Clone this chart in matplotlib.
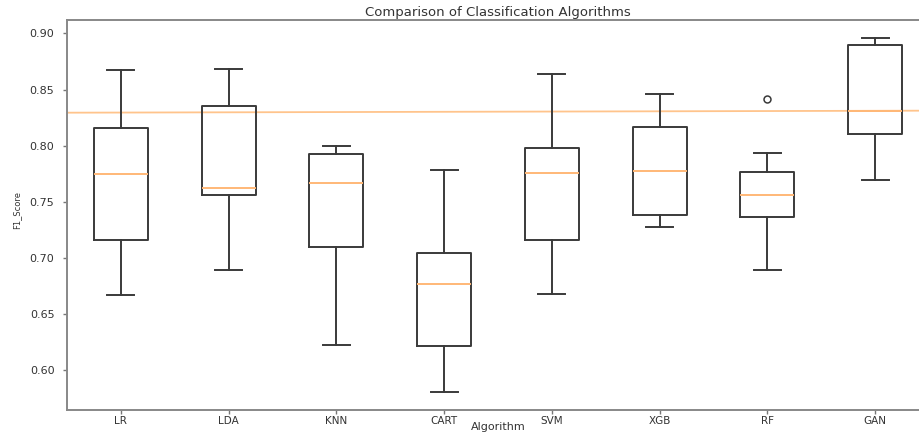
import matplotlib.pyplot as plt

# F1 scores per algorithm, summarised as box statistics
algorithms = ["LR", "LDA", "KNN", "CART", "SVM", "XGB", "RF", "GAN"]
whisker_low = [0.6665, 0.6893, 0.6220, 0.5802, 0.6675, 0.7271, 0.6888, 0.7698]
q1 = [0.7155, 0.7556, 0.7098, 0.6214, 0.7155, 0.7386, 0.7362, 0.8104]
median = [0.7745, 0.7620, 0.7668, 0.6769, 0.7757, 0.7778, 0.7558, 0.8306]
q3 = [0.8155, 0.8350, 0.7930, 0.7045, 0.7980, 0.8170, 0.7763, 0.8899]
whisker_high = [0.8675, 0.8680, 0.8000, 0.7787, 0.8635, 0.8457, 0.7935, 0.8962]
fliers = [[], [], [], [], [], [], [0.8413], []]

# reference level drawn across the plot
ref_level = [0.8294, 0.8312]

stats = []
for i, name in enumerate(algorithms):
    stats.append({
        "label": name,
        "whislo": whisker_low[i],
        "q1": q1[i],
        "med": median[i],
        "q3": q3[i],
        "whishi": whisker_high[i],
        "fliers": fliers[i],
    })

fig = plt.figure(figsize=(9.19, 4.37), dpi=100)
ax = fig.add_axes([0.0729, 0.0618, 0.938, 0.8924])

edge = "#3a3a3a"
ax.bxp(
    stats,
    boxprops=dict(color=edge, linewidth=1.4),
    whiskerprops=dict(color=edge, linewidth=1.4),
    capprops=dict(color=edge, linewidth=1.4),
    medianprops=dict(color="#ffb877", linewidth=1.4),
    flierprops=dict(marker="o", markersize=5, markerfacecolor="none",
                    markeredgecolor=edge, markeredgewidth=1.1),
)

x0, x1 = ax.get_xlim()
ax.plot([x0, x1], ref_level, color="#ffc48c", linewidth=1.3, zorder=1)
ax.set_xlim(x0, x1)

for side in ["top", "left", "bottom"]:
    ax.spines[side].set_color("#888888")
    ax.spines[side].set_linewidth(1.4)
ax.spines["right"].set_visible(False)

ax.tick_params(axis="both", length=3, width=1, colors="#777777",
               labelcolor="#333333")
ax.tick_params(axis="x", labelsize=7.5, pad=1.5)
ax.tick_params(axis="y", labelsize=8, pad=6)
ax.set_yticks([0.60, 0.65, 0.70, 0.75, 0.80, 0.85, 0.90])

ax.set_title("Comparison of Classification Algorithms", fontsize=9.5,
             color="#333333", pad=3)
ax.set_xlabel("Algorithm", fontsize=8, color="#333333", va="center")
ax.xaxis.set_label_coords(0.5, -0.044)
ax.set_ylabel("F1_Score", fontsize=6,
              family=["Liberation Sans Narrow", "DejaVu Sans"],
              color="#333333", va="center")
ax.yaxis.set_label_coords(-0.058, 0.513)

fig.savefig("out.png", dpi=100)
